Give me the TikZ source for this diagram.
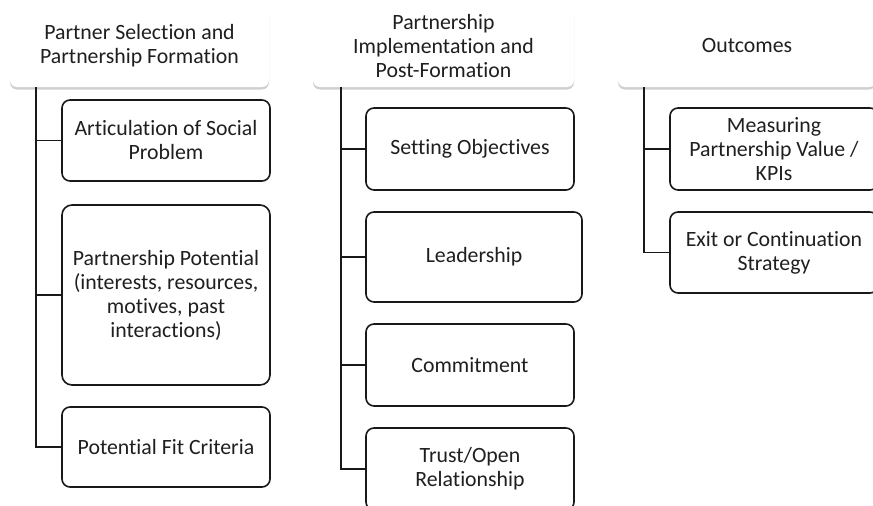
\documentclass[tikz,border=0pt]{standalone}
\usepackage{fontspec}
\setmainfont{Carlito}[Ligatures={NoCommon}]
\usetikzlibrary{shadows}

\tikzset{
  headbox/.style={fill=white,rounded corners=7pt,align=center,text=black!88,
    minimum width=259pt,minimum height=82pt,inner sep=2pt,
    drop shadow={shadow xshift=0pt,shadow yshift=-2.5pt,fill=black!30,opacity=.6}},
  subbox/.style={draw=black!90,line width=1.6pt,fill=white,rounded corners=8pt,
    align=center,text=black!88,minimum width=208pt,minimum height=82pt,inner sep=2pt},
  link/.style={draw=black!90,line width=1.8pt}
}

\begin{document}
\begin{tikzpicture}[x=1pt,y=-1pt,font=\fontsize{21.8}{24}\selectfont]
  \clip (0,0) rectangle (873,506);
  \fill[white] (0,0) rectangle (873,506);
  % column 1
  \node[headbox] (hdA) at (139.5,46){Partner Selection and\\Partnership Formation};
  \node[subbox,minimum height=81pt] (art) at (166,140.5){Articulation of Social\\Problem};
  \node[subbox,minimum height=180pt,rounded corners=10pt] (pot) at (166,295){Partnership Potential\\(interests, resources,\\motives, past\\interactions)};
  \node[subbox,minimum height=80pt] (fit) at (166,447){Potential Fit Criteria};
  \foreach \c in {art,pot,fit} \draw[link] ([xshift=26pt]hdA.south west) |- (\c.west);
  % column 2
  \node[headbox,minimum width=261pt] (hdB) at (443.5,46){Partnership\\Implementation and\\Post-Formation};
  \node[subbox] (obj) at (470,149){Setting Objectives};
  \node[subbox,minimum width=216pt,minimum height=90pt] (lead) at (474,257){Leadership};
  \node[subbox] (com) at (470,365){Commitment};
  \node[subbox] (trust) at (470,469){Trust/Open\\Relationship};
  \foreach \c in {obj,lead,com,trust} \draw[link] ([xshift=28pt]hdB.south west) |- (\c.west);
  % column 3
  \node[headbox,minimum width=258pt] (hdC) at (747,46){Outcomes};
  \node[subbox] (kpi) at (774,149){Measuring\\Partnership Value /\\KPIs};
  \node[subbox,minimum height=81pt] (exit) at (774,252.5){Exit or Continuation\\Strategy};
  \foreach \c in {kpi,exit} \draw[link] ([xshift=26pt]hdC.south west) |- (\c.west);
\end{tikzpicture}
\end{document}
